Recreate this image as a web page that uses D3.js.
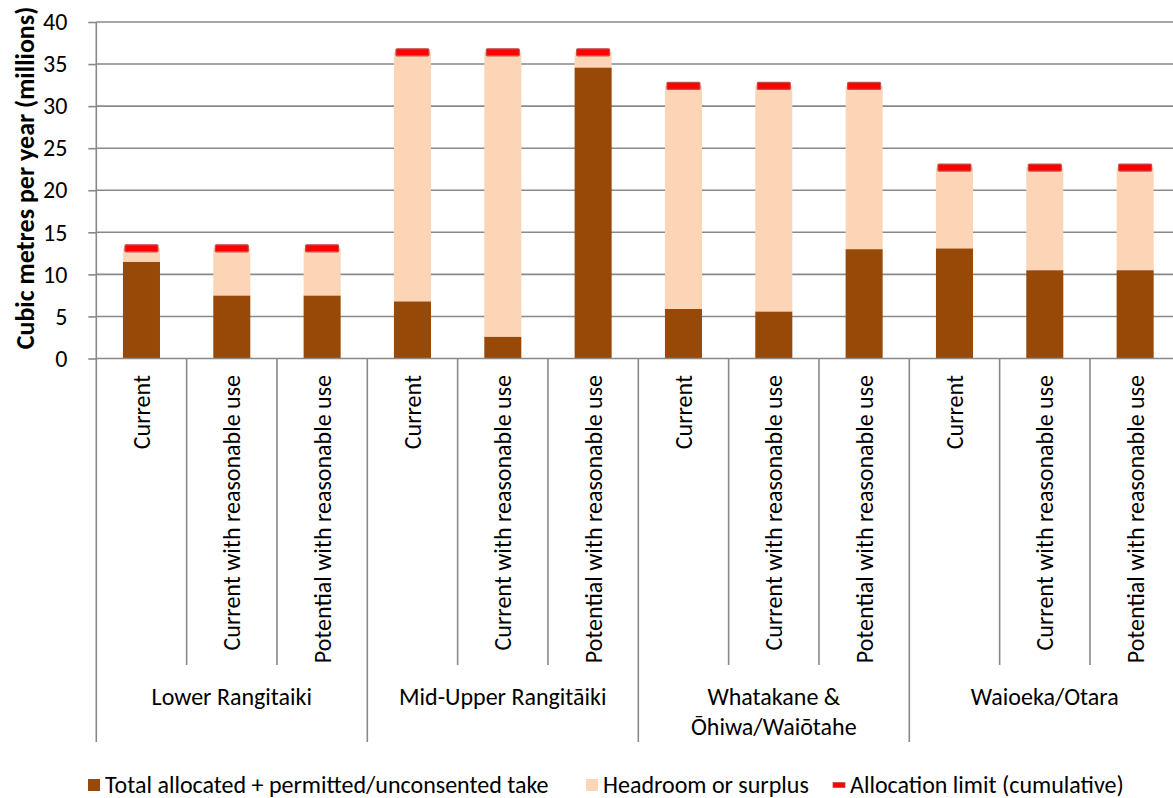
<!DOCTYPE html>
<html>
<head>
<meta charset="utf-8">
<script src="https://cdn.jsdelivr.net/npm/d3@7"></script>
<style>
  html, body { margin: 0; padding: 0; background: #fff; }
  text { font-family: Carlito, "Open Sans", sans-serif; fill: #000; }
</style>
</head>
<body>
<svg id="chart" width="1173" height="798"></svg>
<script>
// Scenario labels (one per bar) and the catchment each belongs to
const scenarios = [
  "Current", "Current with reasonable use", "Potential with reasonable use",
  "Current", "Current with reasonable use", "Potential with reasonable use",
  "Current", "Current with reasonable use", "Potential with reasonable use",
  "Current", "Current with reasonable use", "Potential with reasonable use"
];
const catchments = [
  ["Lower Rangitaiki"],
  ["Mid-Upper Rangitāiki"],
  ["Whatakane &", "Ōhiwa/Waiōtahe"],
  ["Waioeka/Otara"]
];
const barsPerCatchment = 3;

// Values, millions of cubic metres per year
const allocatedTake = [11.5, 7.5, 7.5, 6.8, 2.6, 34.6, 5.9, 5.6, 13.0, 13.1, 10.5, 10.5];
const headroom      = [1.6, 5.6, 5.6, 29.6, 33.8, 1.8, 26.5, 26.8, 19.4, 9.6, 12.2, 12.2];
const allocationLimit = [13.1, 13.1, 13.1, 36.4, 36.4, 36.4, 32.4, 32.4, 32.4, 22.7, 22.7, 22.7];

const yTicks = [0, 5, 10, 15, 20, 25, 30, 35, 40];

const legendLabels = [
  "Total allocated + permitted/unconsented take",
  "Headroom or surplus",
  "Allocation limit (cumulative)"
];

const colBrown = "#984807", colPeach = "#FBD5B5", colRed = "#FF0000", colGrid = "#898989";
const fontSize = "24px";

const svg = d3.select("#chart");
const plotLeft = 96.3, plotRight = 1180.3, plotTop = 22, plotBottom = 358.5;

const idx = d3.range(scenarios.length);
const x = d3.scaleBand().domain(idx).range([plotLeft, plotRight]).paddingInner(0.59).paddingOuter(0.295);
const y = d3.scaleLinear().domain([0, 40]).range([plotBottom, plotTop]);
const bandStart = i => plotLeft + i * (plotRight - plotLeft) / scenarios.length;

// Gridlines
svg.append("g").selectAll("line").data(yTicks.filter(d => d > 0)).join("line")
  .attr("x1", plotLeft).attr("x2", plotRight)
  .attr("y1", d => y(d)).attr("y2", d => y(d))
  .attr("stroke", colGrid).attr("stroke-width", 1.6);

// Y axis
const yAxis = d3.axisLeft(y).tickValues(yTicks).tickSize(8).tickPadding(21).tickFormat(d3.format("d"));
const gy = svg.append("g").attr("transform", `translate(${plotLeft},0)`).call(yAxis);
gy.select(".domain").remove();
gy.selectAll(".tick line").attr("stroke", colGrid).attr("stroke-width", 1.6);
gy.selectAll(".tick text").style("font-size", fontSize).attr("fill", "#000");

// Bars: allocated take, then headroom stacked on top
const gBars = svg.append("g");
gBars.selectAll("rect.take").data(idx).join("rect").attr("class", "take")
  .attr("x", i => x(i)).attr("width", x.bandwidth())
  .attr("y", i => y(allocatedTake[i]))
  .attr("height", i => y(0) - y(allocatedTake[i]))
  .attr("fill", colBrown);
gBars.selectAll("rect.head").data(idx).join("rect").attr("class", "head")
  .attr("x", i => x(i)).attr("width", x.bandwidth())
  .attr("y", i => y(allocatedTake[i] + headroom[i]))
  .attr("height", i => y(allocatedTake[i]) - y(allocatedTake[i] + headroom[i]))
  .attr("fill", colPeach);

// Allocation limit markers
const mW = 33, mH = 7;
gBars.selectAll("rect.limit").data(idx).join("rect").attr("class", "limit")
  .attr("x", i => x(i) + x.bandwidth() / 2 - mW / 2).attr("width", mW)
  .attr("y", i => y(allocationLimit[i]) - mH / 2).attr("height", mH)
  .attr("rx", 1)
  .attr("fill", colRed).attr("stroke", "#C0504D").attr("stroke-width", 1.2);

// Axis lines: horizontal baseline and left vertical axis
svg.append("line").attr("x1", plotLeft).attr("x2", plotRight).attr("y1", plotBottom).attr("y2", plotBottom)
  .attr("stroke", colGrid).attr("stroke-width", 1.6);
svg.append("line").attr("x1", plotLeft).attr("x2", plotLeft).attr("y1", plotTop).attr("y2", 742)
  .attr("stroke", colGrid).attr("stroke-width", 1.6);

// Category separators: short between scenarios, long between catchments
const seps = d3.range(1, scenarios.length + 1);
svg.append("g").selectAll("line").data(seps).join("line")
  .attr("x1", i => bandStart(i)).attr("x2", i => bandStart(i))
  .attr("y1", plotBottom)
  .attr("y2", i => i % barsPerCatchment === 0 ? 742 : 665)
  .attr("stroke", colGrid).attr("stroke-width", 1.6);

// Scenario labels, rotated
svg.append("g").selectAll("text").data(idx).join("text")
  .attr("transform", i => `translate(${x(i) + x.bandwidth() / 2},375) rotate(-90)`)
  .attr("text-anchor", "end").attr("dy", "0.35em")
  .style("font-size", fontSize)
  .text(i => scenarios[i]);

// Catchment labels
const gC = svg.append("g");
catchments.forEach((lines, k) => {
  const cx = (bandStart(k * barsPerCatchment) + bandStart((k + 1) * barsPerCatchment)) / 2;
  const t = gC.append("text").attr("x", cx).attr("y", 697).attr("text-anchor", "middle")
    .style("font-size", fontSize);
  lines.forEach((ln, j) => {
    t.append("tspan").attr("x", cx).attr("dy", j === 0 ? "0.35em" : "1.25em").text(ln);
  });
});

// Y axis title
svg.append("text")
  .attr("transform", "translate(25,178) rotate(-90)")
  .attr("text-anchor", "middle").attr("dy", "0.35em")
  .style("font-size", "26px").style("font-weight", "bold")
  .text("Cubic metres per year (millions)");

// Legend
const legendY = 785;
const legendX = [88, 586, 833];
const gL = svg.append("g");
legendLabels.forEach((lbl, k) => {
  if (k < 2) {
    gL.append("rect").attr("x", legendX[k]).attr("y", legendY - 6).attr("width", 12).attr("height", 12)
      .attr("fill", k === 0 ? colBrown : colPeach);
  } else {
    gL.append("rect").attr("x", legendX[k]).attr("y", legendY - 2.5).attr("width", 12).attr("height", 5)
      .attr("fill", colRed).attr("stroke", "#C0504D").attr("stroke-width", 0.8);
  }
  gL.append("text").attr("x", legendX[k] + 17).attr("y", legendY).attr("dy", "0.35em")
    .style("font-size", fontSize).text(lbl);
});
</script>
</body>
</html>
